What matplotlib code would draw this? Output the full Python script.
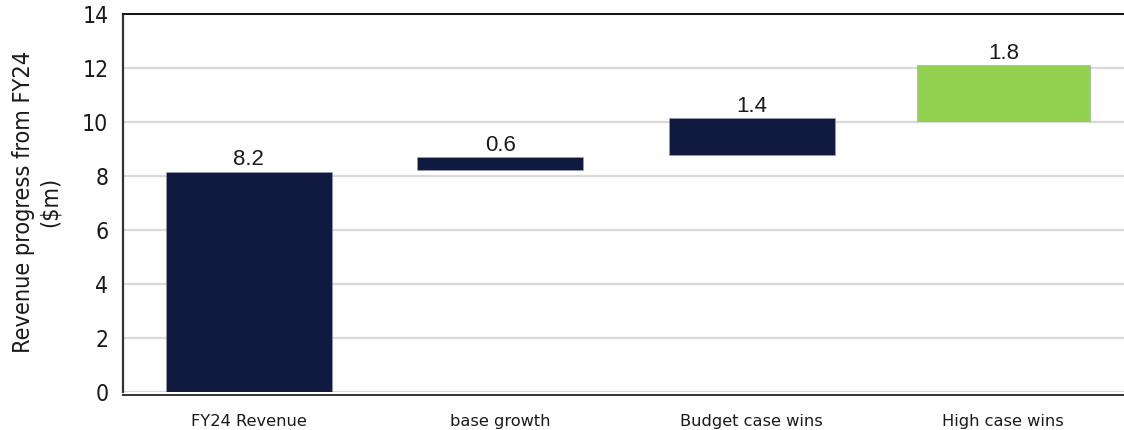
import matplotlib
matplotlib.use("Agg")
import matplotlib.pyplot as plt
from matplotlib import font_manager

# ---- data ----
categories = ["FY24 Revenue", "base growth", "Budget case wins", "High case wins"]
label_values = [8.2, 0.6, 1.4, 1.8]
bar_bottoms = [0.0, 8.21, 8.77, 10.05]
bar_tops = [8.16, 8.69, 10.14, 12.10]
y_ticks = [0, 2, 4, 6, 8, 10, 12, 14]
y_label = "Revenue progress from FY24\n($m)"

# ---- style ----
navy = "#101A40"
green = "#92D050"
bar_colors = [navy, navy, navy, green]
bar_widths = [0.66, 0.66, 0.66, 0.687]

plt.rcParams["font.family"] = ["DejaVu Sans"]


def cond(size):
    return font_manager.FontProperties(family="DejaVu Sans", stretch="condensed", size=size)


fig = plt.figure(figsize=(11.24, 4.30), dpi=100)
ax = fig.add_axes([123 / 1124, 38 / 430, (1129 - 123) / 1124, 378 / 430])

x = list(range(len(categories)))
heights = [t - b for t, b in zip(bar_tops, bar_bottoms)]
ax.bar(x, heights, bottom=bar_bottoms, width=bar_widths,
       color=bar_colors, edgecolor="#9AA0B0", linewidth=0.4, zorder=3)

for xi, top, v in zip(x, bar_tops, label_values):
    ax.annotate(f"{v:.1f}", (xi, top), xytext=(0, 1), textcoords="offset points",
                ha="center", va="bottom", fontsize=16, color="#1a1a1a", zorder=4,
                family=["Liberation Sans", "DejaVu Sans"])

ax.set_xlim(-0.5, 3.5)
ax.set_ylim(0, 14)
ax.set_yticks(y_ticks)
ax.set_yticklabels([str(t) for t in y_ticks], fontproperties=cond(16.5))
ax.set_xticks(x)
ax.set_xticklabels(categories)
ax.tick_params(axis="y", length=0, pad=10.5, colors="#1a1a1a")
ax.tick_params(axis="x", length=0, pad=13.5, colors="#1a1a1a", labelsize=11.7)

ax.grid(axis="y", color="#D9D9D9", linewidth=1.6, zorder=0)
ax.set_axisbelow(True)

ax.spines["right"].set_visible(False)
ax.spines["left"].set_color("#333333")
ax.spines["left"].set_linewidth(1.6)
ax.spines["top"].set_color("#111111")
ax.spines["top"].set_linewidth(1.4)
ax.spines["bottom"].set_color("#333333")
ax.spines["bottom"].set_linewidth(1.4)
ax.spines["bottom"].set_position(("outward", 2))

fig.text(37 / 1124, 1 - 202 / 430, y_label, rotation=90, ha="center", va="center",
         color="#1a1a1a", multialignment="center", linespacing=1.2,
         fontproperties=cond(16.8))

fig.savefig("out.png", dpi=100)
